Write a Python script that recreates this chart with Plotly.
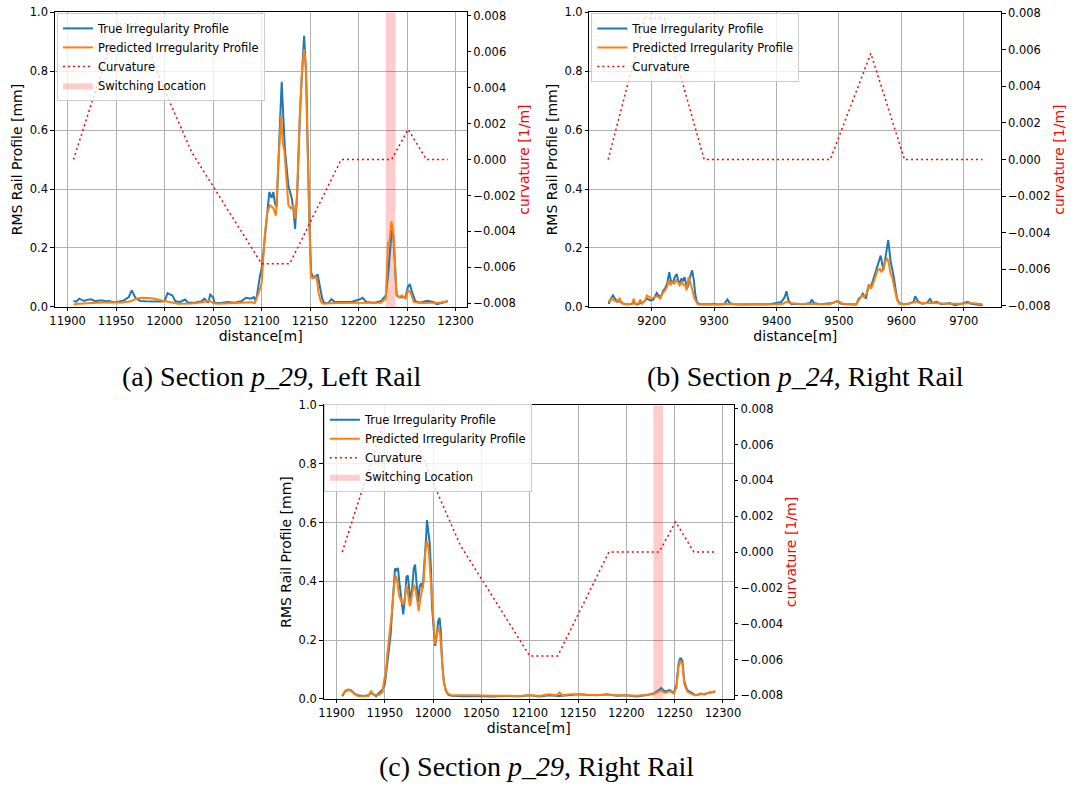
import plotly.graph_objects as go

# ---------------- data: section p_29, left rail (a) ----------------
a_true_x = [11906, 11909, 11912, 11917, 11920, 11924, 11929, 11932, 11936, 11940, 11943, 11946, 11951, 11956,
            11958, 11963, 11966, 11970, 11975, 11980, 11987, 11993, 11997, 12000, 12003, 12006, 12008, 12011,
            12016, 12021, 12024, 12031, 12038, 12041, 12045, 12047, 12050, 12051.5, 12058, 12065, 12072, 12079,
            12084, 12089, 12092, 12093.5, 12095, 12098.3, 12100, 12101.7, 12103.4, 12106.9, 12107.9, 12110.3,
            12112.1, 12113.8, 12115.5, 12118, 12120.7, 12122.4, 12124.1, 12127.6, 12131, 12132.8, 12134.5,
            12136.9, 12139.7, 12142.4, 12143.8, 12145.9, 12147.6, 12149.3, 12151, 12152.8, 12155.2, 12157.7,
            12160.3, 12162.5, 12164.5, 12168.6, 12172, 12175.4, 12182.2, 12192.4, 12200.8, 12204.2, 12207.6,
            12216.1, 12222.9, 12228, 12230.3, 12232.4, 12234.1, 12235.8, 12237.5, 12239.2, 12241.5, 12244.9,
            12248.3, 12250.7, 12252.7, 12255.1, 12258.5, 12263.6, 12270.3, 12277.1, 12280.5, 12285.6, 12290.7,
            12292]
a_true_y = [0.020, 0.018, 0.028, 0.020, 0.024, 0.026, 0.019, 0.022, 0.022, 0.019, 0.020, 0.017, 0.017, 0.020,
            0.022, 0.033, 0.056, 0.030, 0.020, 0.019, 0.019, 0.017, 0.018, 0.020, 0.047, 0.042, 0.039, 0.019,
            0.017, 0.025, 0.015, 0.014, 0.019, 0.028, 0.014, 0.042, 0.033, 0.014, 0.013, 0.017, 0.014, 0.019,
            0.031, 0.028, 0.033, 0.022, 0.035, 0.106, 0.130, 0.180, 0.240, 0.360, 0.390, 0.370,
            0.390, 0.350, 0.340, 0.550, 0.764, 0.640, 0.530, 0.410, 0.370, 0.330, 0.265,
            0.400, 0.670, 0.840, 0.920, 0.790, 0.510, 0.280, 0.117, 0.100, 0.100, 0.110,
            0.065, 0.028, 0.013, 0.013, 0.026, 0.017, 0.017, 0.017, 0.025, 0.031, 0.017,
            0.014, 0.019, 0.039, 0.106, 0.206, 0.260, 0.240, 0.128, 0.039, 0.033, 0.033,
            0.033, 0.067, 0.078, 0.050, 0.019, 0.014, 0.021, 0.017, 0.009, 0.013, 0.019,
            0.020]
a_pred_x = [11906, 11912, 11925, 11943, 11956, 11965, 11971, 11976, 11983, 11990, 11997, 12007, 12014, 12028,
            12041, 12046, 12050, 12055, 12068, 12082, 12090, 12093, 12094.8, 12098.3, 12100, 12101.7, 12103.4,
            12105.9, 12108.6, 12112.1, 12114.8, 12117.2, 12120, 12121.7, 12123.4, 12125.9, 12127.6, 12130,
            12132.8, 12134.5, 12136.2, 12139, 12141.4, 12143.8, 12145.5, 12147.2, 12149, 12150.7, 12152.8,
            12154.4, 12156.8, 12158.5, 12161.2, 12163.6, 12175.4, 12192.4, 12209.3, 12222.9, 12228, 12230.3,
            12232, 12233.7, 12235.4, 12237.1, 12238.8, 12241.5, 12244.9, 12248.3, 12251, 12253.4, 12256.8,
            12263.6, 12277.1, 12283.9, 12290.7, 12292]
a_pred_y = [0.008, 0.011, 0.013, 0.016, 0.015, 0.019, 0.028, 0.031, 0.030, 0.028, 0.022, 0.017, 0.011, 0.012,
            0.017, 0.022, 0.013, 0.011, 0.013, 0.016, 0.016, 0.013, 0.028, 0.060, 0.080, 0.180, 0.250,
            0.320, 0.345, 0.335, 0.310, 0.480, 0.650, 0.560, 0.530, 0.420, 0.345, 0.334,
            0.345, 0.300, 0.360, 0.620, 0.790, 0.875, 0.820, 0.560, 0.280, 0.106, 0.095,
            0.106, 0.100, 0.050, 0.017, 0.011, 0.013, 0.014, 0.013, 0.014, 0.028, 0.217,
            0.228, 0.290, 0.262, 0.184, 0.045, 0.033, 0.039, 0.028, 0.056, 0.050, 0.017,
            0.013, 0.014, 0.014, 0.019, 0.018]

# ---------------- data: section p_24, right rail (b) ----------------
b_true_x = [9130, 9131.6, 9134.2, 9137.9, 9141.1, 9144.7, 9150, 9152.6, 9157.9, 9165.8, 9171.1, 9176.3, 9181.6,
            9186.8, 9192.1, 9197.4, 9202.6, 9207.9, 9210.5, 9214.7, 9218.4, 9221.1, 9224.7, 9227.9, 9230.5,
            9233.2, 9236.8, 9240, 9242.1, 9245.3, 9247.4, 9250, 9252.6, 9255.3, 9257.9, 9261.1, 9264.7, 9267.4,
            9269.5, 9272.1, 9276.3, 9284.2, 9294.7, 9300, 9305.3, 9315.8, 9321.1, 9325.3, 9331.6, 9342.1,
            9357.9, 9373.7, 9389.5, 9407.9, 9413.2, 9415.8, 9418.9, 9423.7, 9432.6, 9443.2, 9453.7, 9456.3,
            9460, 9469.5, 9480, 9490.5, 9496.8, 9503.7, 9511.6, 9527.4, 9531.6, 9535.3, 9537.9, 9540.5, 9543.2,
            9545.8, 9548.4, 9551.1, 9553.7, 9556.3, 9558.9, 9561.6, 9566.8, 9571.1, 9575, 9578.9, 9582.6,
            9585.3, 9587.9, 9590.5, 9593.2, 9596.8, 9603.7, 9611.6, 9619.5, 9622.1, 9626.3, 9632.6, 9640.5,
            9645.8, 9649.5, 9656.3, 9664.2, 9677.4, 9685.3, 9695.8, 9706.3, 9711.6, 9719.5, 9730]
b_true_y = [0.013, 0.013, 0.028, 0.039, 0.028, 0.017, 0.020, 0.013, 0.009, 0.009, 0.013, 0.008, 0.013,
            0.017, 0.028, 0.022, 0.025, 0.047, 0.039, 0.034, 0.056, 0.062, 0.079, 0.118, 0.090,
            0.079, 0.101, 0.112, 0.090, 0.079, 0.096, 0.090, 0.101, 0.073, 0.067, 0.101, 0.124, 0.090,
            0.045, 0.017, 0.009, 0.008, 0.009, 0.011, 0.008, 0.009, 0.025, 0.013, 0.009, 0.008,
            0.009, 0.008, 0.009, 0.017, 0.034, 0.053, 0.022, 0.009, 0.011, 0.009, 0.013, 0.025,
            0.013, 0.009, 0.011, 0.013, 0.020, 0.011, 0.009, 0.008, 0.028, 0.034, 0.045, 0.034, 0.028,
            0.056, 0.073, 0.067, 0.084, 0.107, 0.124, 0.140, 0.174, 0.124, 0.180, 0.227, 0.157,
            0.129, 0.100, 0.062, 0.028, 0.013, 0.009, 0.011, 0.017, 0.036, 0.020, 0.011, 0.013,
            0.027, 0.013, 0.017, 0.009, 0.013, 0.006, 0.011, 0.017, 0.011, 0.009, 0.006]
b_pred_x = [9130, 9131.6, 9135.8, 9139.5, 9144.7, 9148.4, 9151.1, 9157.9, 9168.4, 9171.1, 9173.7, 9178.9,
            9181.6, 9184.2, 9189.5, 9192.1, 9195.8, 9200, 9205.3, 9208.9, 9213.2, 9216.8, 9221.1, 9224.2,
            9227.4, 9230, 9232.6, 9235.8, 9238.9, 9242.1, 9244.7, 9248.4, 9251.6, 9253.7, 9255.8, 9258.9,
            9261.6, 9264.2, 9268.4, 9273.7, 9284.2, 9300, 9315.8, 9336.8, 9357.9, 9378.9, 9400, 9410.5,
            9415.8, 9421.1, 9431.6, 9453.7, 9464.2, 9474.7, 9485.3, 9493.2, 9498.4, 9506.3, 9516.8, 9527.4,
            9532.6, 9536.8, 9540.5, 9544.2, 9547.4, 9551.1, 9554.7, 9557.9, 9561.6, 9565.3, 9568.4, 9572.1,
            9574.7, 9577.4, 9580, 9582.6, 9585.3, 9587.9, 9590.5, 9593.2, 9596.8, 9606.3, 9622.1, 9632.6,
            9653.7, 9669.5, 9695.8, 9711.6, 9730]
b_pred_y = [0.020, 0.020, 0.028, 0.022, 0.017, 0.030, 0.013, 0.009, 0.011, 0.028, 0.009, 0.013,
            0.025, 0.011, 0.022, 0.039, 0.034, 0.028, 0.034, 0.036, 0.028, 0.045, 0.056, 0.067,
            0.090, 0.073, 0.084, 0.079, 0.090, 0.084, 0.073, 0.084, 0.073, 0.073, 0.056, 0.101,
            0.084, 0.062, 0.028, 0.009, 0.009, 0.008, 0.011, 0.009, 0.010, 0.008, 0.009, 0.011,
            0.017, 0.013, 0.011, 0.011, 0.009, 0.011, 0.009, 0.017, 0.020, 0.011, 0.009, 0.009,
            0.025, 0.039, 0.034, 0.045, 0.076, 0.062, 0.079, 0.100, 0.124, 0.129, 0.118, 0.140,
            0.157, 0.166, 0.146, 0.112, 0.101, 0.073, 0.045, 0.022, 0.011, 0.009, 0.017, 0.013,
            0.013, 0.011, 0.011, 0.013, 0.009]

# ---------------- data: section p_29, right rail (c) ----------------
c_true_x = [11906, 11909, 11912, 11915, 11918, 11922, 11928, 11933, 11936, 11939, 11941, 11944, 11947.6, 11950,
            11952.7, 11954.4, 11956.1, 11957.8, 11959.6, 11960.6, 11962.3, 11963.7, 11965, 11967.1, 11969.1,
            11970.8, 11972.5, 11973.9, 11975.3, 11976.6, 11978.3, 11980, 11981.4, 11982.8, 11984.5, 11986.2,
            11987.9, 11989.2, 11991.3, 11992.7, 11993.7, 11995.1, 11996.4, 11997.8, 11998.8, 12000.5, 12002.2,
            12003.9, 12005.3, 12006.7, 12008, 12009.4, 12011.4, 12013.5, 12015.9, 12019.3, 12030, 12045, 12060,
            12075, 12090, 12100, 12110, 12120, 12130, 12140, 12150, 12160, 12170, 12180, 12190, 12200, 12210,
            12220, 12228, 12233, 12236, 12240, 12245, 12249, 12252, 12254, 12256, 12258, 12260, 12263, 12268,
            12272, 12277, 12281, 12286, 12292]
c_true_y = [0.009, 0.025, 0.032, 0.030, 0.020, 0.012, 0.010, 0.012, 0.020, 0.015, 0.009, 0.020, 0.031, 0.048,
            0.120, 0.176, 0.220, 0.310, 0.420, 0.444, 0.438, 0.446, 0.400, 0.343, 0.288,
            0.343, 0.416, 0.420, 0.376, 0.330, 0.376, 0.444, 0.457, 0.400, 0.330, 0.383,
            0.394, 0.376, 0.466, 0.544, 0.609, 0.572, 0.533, 0.444, 0.320, 0.243, 0.180,
            0.220, 0.265, 0.276, 0.232, 0.120, 0.054, 0.026, 0.014, 0.011, 0.009, 0.010, 0.008,
            0.010, 0.009, 0.012, 0.008, 0.012, 0.010, 0.012, 0.016, 0.013, 0.012, 0.016, 0.011, 0.012, 0.008,
            0.012, 0.018, 0.028, 0.037, 0.025, 0.030, 0.020, 0.050, 0.120, 0.140, 0.130, 0.060, 0.030, 0.020,
            0.012, 0.018, 0.015, 0.022, 0.024]
c_pred_x = [11906, 11909, 11912, 11915, 11918, 11922, 11928, 11933, 11935.7, 11937, 11939, 11944, 11947.6,
            11950, 11951, 11952.7, 11954.4, 11956.1, 11957.8, 11959.6, 11961.3, 11963, 11964.7, 11967.1,
            11969.1, 11970.8, 11972.5, 11974.2, 11975.9, 11977.6, 11980, 11981.7, 11983.4, 11985.2, 11986.9,
            11988.6, 11990.3, 11992, 11993.7, 11995.4, 11997.1, 11998.8, 12000.5, 12002.2, 12003.9, 12006,
            12007.3, 12009, 12010.8, 12012.8, 12015.9, 12019.3, 12030, 12045, 12060, 12075, 12090, 12100,
            12110, 12120, 12128, 12131, 12134, 12140, 12150, 12160, 12170, 12180, 12190, 12200, 12210, 12220,
            12228, 12233, 12236, 12240, 12245, 12249, 12252, 12254, 12256, 12258, 12260, 12263, 12268, 12272,
            12277, 12281, 12286, 12292]
c_pred_y = [0.012, 0.028, 0.030, 0.028, 0.018, 0.010, 0.009, 0.010, 0.026, 0.020, 0.014, 0.014, 0.022,
            0.076, 0.087, 0.154, 0.200, 0.243, 0.310, 0.390, 0.420, 0.398, 0.354, 0.332,
            0.320, 0.343, 0.388, 0.354, 0.315, 0.343, 0.388, 0.376, 0.343, 0.300, 0.343,
            0.366, 0.399, 0.500, 0.538, 0.510, 0.420, 0.332, 0.265, 0.187, 0.220, 0.243,
            0.220, 0.131, 0.065, 0.031, 0.017, 0.012, 0.011, 0.012, 0.011, 0.011, 0.010, 0.013,
            0.010, 0.016, 0.012, 0.022, 0.012, 0.015, 0.017, 0.014, 0.014, 0.014, 0.012, 0.012, 0.011, 0.013,
            0.016, 0.024, 0.028, 0.020, 0.026, 0.018, 0.040, 0.110, 0.130, 0.120, 0.050, 0.025, 0.016, 0.013,
            0.015, 0.016, 0.020, 0.027]

# ---------------- curvature ----------------
curv_p29_x = [11906, 11951, 11973, 12000, 12028, 12100, 12129, 12182, 12234, 12251, 12270, 12292]
curv_p29_k = [0.0, 0.00756, 0.00756, 0.00386, 0.0004, -0.0058, -0.0058, 0.0, 0.0, 0.00168, 0.0, 0.0]
curv_p24_x = [9130, 9189, 9220, 9284, 9486, 9551, 9605, 9730]
curv_p24_k = [0.0, 0.00773, 0.00773, 0.0, 0.0, 0.00581, 0.0, 0.0]

switch_span = [12228, 12238]
profile_range = [0.0, 1.0]

# tick labels
x_ticks_p29 = [11900, 11950, 12000, 12050, 12100, 12150, 12200, 12250, 12300]
x_ticks_p24 = [9200, 9300, 9400, 9500, 9600, 9700]
y_ticks = [0.0, 0.2, 0.4, 0.6, 0.8, 1.0]
k_ticks = [-0.008, -0.006, -0.004, -0.002, 0.0, 0.002, 0.004, 0.006, 0.008]

captions = ["(a) Section <i>p_29</i>, Left Rail",
            "(b) Section <i>p_24</i>, Right Rail",
            "(c) Section <i>p_29</i>, Right Rail"]

# ---------------- styling ----------------
W, H = 1074, 794
BLUE, ORANGE = "#1f77b4", "#ff7f0e"
FONT = "DejaVu Sans"
TICK_FS, TITLE_FS, LEG_FS = 11.5, 14, 11.5


def px_dom(a, b, total):
    return [a / total, b / total]


def py_dom(top, bottom):
    return [1 - bottom / H, 1 - top / H]


panels = [
    dict(name="a", xd=px_dom(50.3, 466.8, W), yd=py_dom(5.3, 305.3), xr=[11886.7, 12311.3],
         kr=[-0.0082, 0.0082], xt=x_ticks_p29,
         tx=a_true_x, ty=a_true_y, px=a_pred_x, py=a_pred_y, cx=curv_p29_x, ck=curv_p29_k, switch=True,
         leg=(52.5, 6.0), cap=(270, 376)),
    dict(name="b", xd=px_dom(591.0, 1007.5, W), yd=py_dom(5.3, 305.3), xr=[9100.0, 9760.0],
         kr=[-0.00806, 0.00806], xt=x_ticks_p24,
         tx=b_true_x, ty=b_true_y, px=b_pred_x, py=b_pred_y, cx=curv_p24_x, ck=curv_p24_k, switch=False,
         leg=(593.0, 6.0), cap=(810, 376)),
    dict(name="c", xd=px_dom(322.2, 737.1, W), yd=py_dom(405.3, 704.3), xr=[11886.7, 12311.3],
         kr=[-0.0082, 0.0082], xt=x_ticks_p29,
         tx=c_true_x, ty=c_true_y, px=c_pred_x, py=c_pred_y, cx=curv_p29_x, ck=curv_p29_k, switch=True,
         leg=(322.5, 404.5), cap=(537, 773)),
]

fig = go.Figure()
layout = dict(width=W, height=H, margin=dict(l=0, r=0, t=0, b=0), paper_bgcolor="white",
              plot_bgcolor="white", font=dict(family=FONT, size=TICK_FS, color="black"),
              showlegend=True, annotations=[])

for i, p in enumerate(panels):
    xi = i + 1
    yl = 2 * i + 1
    yr = 2 * i + 2
    xname = "x" if xi == 1 else f"x{xi}"
    ylname = "y" if yl == 1 else f"y{yl}"
    yrname = f"y{yr}"
    legname = "legend" if i == 0 else f"legend{i + 1}"

    if p["switch"]:
        fig.add_trace(go.Scatter(
            x=[switch_span[0], switch_span[0], switch_span[1], switch_span[1], switch_span[0]],
            y=[profile_range[0], profile_range[1], profile_range[1], profile_range[0], profile_range[0]],
            fill="toself", fillcolor="rgba(255,0,0,0.2)", line=dict(width=0), mode="lines",
            name="Switching Location", xaxis=xname, yaxis=ylname, legend=legname, legendrank=4,
            hoverinfo="skip"))
    fig.add_trace(go.Scatter(x=p["tx"], y=p["ty"], mode="lines", line=dict(color=BLUE, width=2),
                             name="True Irregularity Profile", xaxis=xname, yaxis=ylname,
                             legend=legname, legendrank=1))
    fig.add_trace(go.Scatter(x=p["px"], y=p["py"], mode="lines", line=dict(color=ORANGE, width=2),
                             name="Predicted Irregularity Profile", xaxis=xname, yaxis=ylname,
                             legend=legname, legendrank=2))
    fig.add_trace(go.Scatter(x=p["cx"], y=p["ck"], mode="lines",
                             line=dict(color="red", width=1.5, dash="2px,3px"),
                             name="Curvature", xaxis=xname, yaxis=yrname, legend=legname, legendrank=3))

    xkey = "xaxis" if xi == 1 else f"xaxis{xi}"
    ylkey = "yaxis" if yl == 1 else f"yaxis{yl}"
    yrkey = f"yaxis{yr}"
    common = dict(ticks="outside", ticklen=3.5, tickwidth=0.8, tickcolor="black",
                  showline=True, linecolor="black", linewidth=0.8, zeroline=False,
                  tickfont=dict(family=FONT, size=TICK_FS, color="black"))
    layout[xkey] = dict(domain=p["xd"], anchor=ylname, range=p["xr"], tickvals=p["xt"],
                        tickformat="d", showgrid=True, gridcolor="#b0b0b0", gridwidth=0.8, mirror=True,
                        title=dict(text="distance[m]", font=dict(size=TITLE_FS), standoff=1), **common)
    layout[ylkey] = dict(domain=p["yd"], anchor=xname, range=profile_range, tickvals=y_ticks,
                         tickformat=".1f", showgrid=True, gridcolor="#b0b0b0", gridwidth=0.8, mirror=True,
                         title=dict(text="RMS Rail Profile [mm]", font=dict(size=TITLE_FS), standoff=3),
                         **common)
    layout[yrkey] = dict(overlaying=ylname, side="right", anchor=xname, range=p["kr"], tickvals=k_ticks,
                         tickformat=".3f", showgrid=False,
                         title=dict(text="curvature [1/m]", font=dict(size=TITLE_FS, color="red"), standoff=4),
                         **common)
    layout[legname] = dict(x=p["leg"][0] / W, y=1 - p["leg"][1] / H, xanchor="left", yanchor="top",
                           bgcolor="rgba(255,255,255,0.8)", bordercolor="#cccccc", borderwidth=1,
                           font=dict(family=FONT, size=LEG_FS, color="black"), tracegroupgap=0,
                           traceorder="normal", itemwidth=30)
    layout["annotations"].append(dict(text=captions[i], x=p["cap"][0] / W, y=1 - p["cap"][1] / H,
                                      xref="paper", yref="paper", showarrow=False, xanchor="center",
                                      yanchor="middle",
                                      font=dict(family="Liberation Serif", size=28, color="black")))

fig.update_layout(**layout)
fig.write_html("out.html")
